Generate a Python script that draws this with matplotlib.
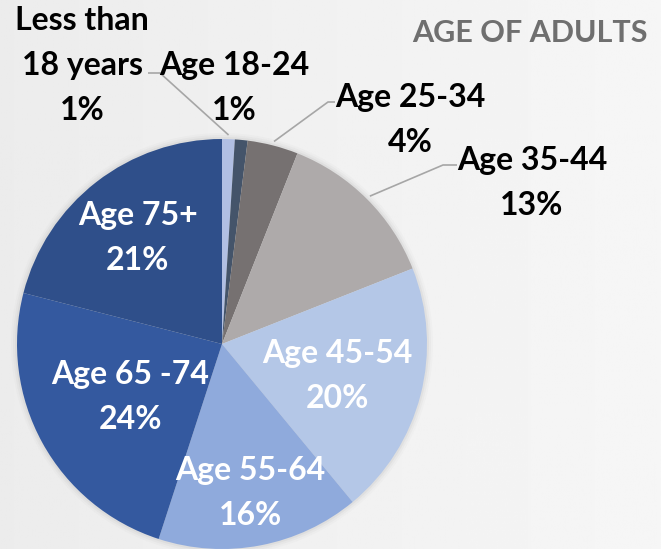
import numpy as np
import matplotlib.pyplot as plt
from matplotlib.patches import Circle

# ── Data ─────────────────────────────────────────────────────────────────────
labels = ["Less than\n18 years", "Age 18-24", "Age 25-34", "Age 35-44",
          "Age 45-54", "Age 55-64", "Age 65 -74", "Age 75+"]
shares = [1, 1, 4, 13, 20, 16, 24, 21]
colors = ["#b1bfe3", "#44546a", "#767171", "#aeaaaa",
          "#b4c7e7", "#8faadc", "#34599f", "#2f4f8a"]
title = "AGE OF ADULTS"

# ── Layout (pixel space, origin top-left) ────────────────────────────────────
W, H = 661, 549
CX, CY, R = 222, 344, 205

# inside labels: radial distance as fraction of R (None = outside label)
inside_dist = [None, None, None, None, 0.58, 0.73, 0.51, 0.67]
# outside labels: text centre (x, y of first line centre) and leader geometry
outside = {
    0: dict(xy=(82, 18), leader=[(148, 73), (160, 73)]),
    1: dict(xy=(234, 63), leader=None),
    2: dict(xy=(410, 95), leader=[(335, 102), (328, 102)]),
    3: dict(xy=(532, 158), leader=[(457, 165), (443, 165)]),
}

plt.rcParams["font.family"] = ["Lato", "DejaVu Sans"]

fig = plt.figure(figsize=(W / 100, H / 100), dpi=100)
ax = fig.add_axes([0, 0, 1, 1])
ax.set_xlim(0, W)
ax.set_ylim(0, H)
ax.set_aspect("equal")
ax.axis("off")


def py(y):
    return H - y


# background: faint grey wash
grad = np.linspace(0.925, 0.965, 256)[None, :]
grad = np.repeat(grad, 2, axis=0)
ax.imshow(grad, cmap="gray", vmin=0, vmax=1, extent=[0, W, 0, H],
          aspect="auto", zorder=0)

# soft shadow around the pie
for k, a in [(6, 0.03), (4, 0.05), (2, 0.08)]:
    ax.add_patch(Circle((CX, py(CY)), R + k, color="#808080", alpha=a,
                        lw=0, zorder=1))

wedges, _ = ax.pie(shares, colors=colors, startangle=90, counterclock=False,
                   center=(CX, py(CY)), radius=R, frame=True,
                   wedgeprops=dict(linewidth=0, zorder=2))
ax.set_xlim(0, W)
ax.set_ylim(0, H)
ax.axis("off")

fs = 23
LS = 45  # pixel gap between label lines
for i, w in enumerate(wedges):
    mid = np.deg2rad((w.theta1 + w.theta2) / 2)
    lines = labels[i].split("\n") + [f"{shares[i]}%"]
    d = inside_dist[i]
    if d is not None:
        x = CX + d * R * np.cos(mid)
        yc = py(CY) + d * R * np.sin(mid)
        y0 = yc + LS * (len(lines) - 1) / 2
        col = "white"
    else:
        o = outside[i]
        x, y0 = o["xy"][0], py(o["xy"][1])
        col = "black"
        if o["leader"] is not None:
            ex = CX + R * 1.02 * np.cos(mid)
            ey = py(CY) + R * 1.02 * np.sin(mid)
            (lx0, ly0), (lx1, ly1) = o["leader"]
            ax.plot([lx0, lx1, ex], [py(ly0), py(ly1), ey], color="#a6a6a6",
                    lw=1.2, zorder=4, solid_capstyle="butt")
    for j, s in enumerate(lines):
        ax.text(x, y0 - j * LS, s, ha="center", va="center_baseline",
                color=col, fontsize=fs, fontweight="bold", zorder=5)

ax.text(648, py(30), title, ha="right", va="center_baseline",
        color="#6f6f6f", fontsize=22, fontweight="bold", zorder=5)

fig.savefig("out.png", dpi=100)
